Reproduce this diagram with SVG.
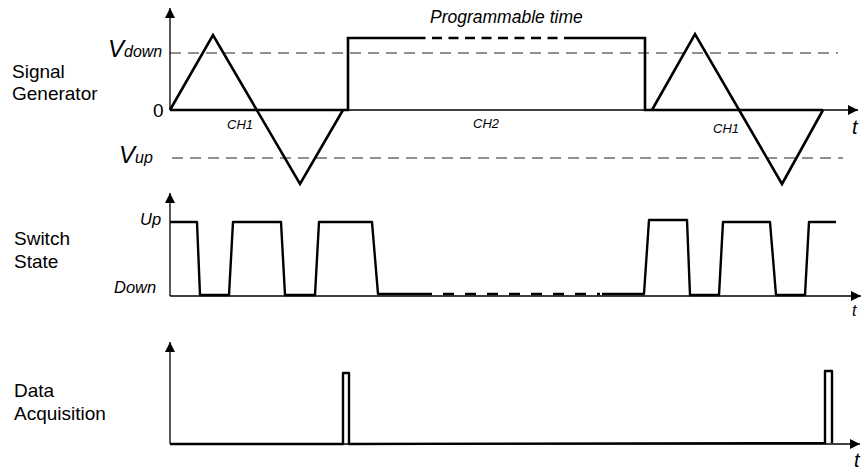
<svg xmlns="http://www.w3.org/2000/svg" width="861" height="471" viewBox="0 0 861 471">
<style>
.lbl{font-family:"Liberation Sans",Arial,sans-serif;font-size:19px;fill:#000}
.it{font-family:"Liberation Sans",Arial,sans-serif;font-style:italic;fill:#000}
.axis{stroke:#000;stroke-width:1.3;fill:none}
.sig{stroke:#000;stroke-width:2.6;fill:none;stroke-linejoin:miter}
.sw{stroke:#000;stroke-width:2.4;fill:none;stroke-linejoin:round}
.ref{stroke:#222;stroke-width:1.2;stroke-dasharray:11 7;fill:none}
</style>
<defs>
<marker id="ah" viewBox="0 0 10 10" refX="10" refY="5" markerWidth="10" markerHeight="10" markerUnits="userSpaceOnUse" orient="auto">
<path d="M0,0 L10,5 L0,10 z" fill="#000"/>
</marker>
</defs>

<g id="labels">
<text class="lbl" x="12" y="78">Signal</text>
<text class="lbl" x="12" y="100">Generator</text>
<text class="lbl" x="14" y="245">Switch</text>
<text class="lbl" x="14" y="268">State</text>
<text class="lbl" x="14" y="397">Data</text>
<text class="lbl" x="14" y="420">Acquisition</text>
</g>

<g id="signal-generator">
<line class="ref" x1="170" y1="53" x2="838" y2="53"/>
<line class="ref" x1="172" y1="158" x2="843" y2="158"/>
<line class="axis" x1="170" y1="110" x2="170" y2="8" marker-end="url(#ah)"/>
<line class="axis" x1="170" y1="110" x2="858" y2="110" marker-end="url(#ah)"/>
<text class="it" x="108" y="57" font-size="24">V<tspan font-size="16">down</tspan></text>
<text class="it" x="119" y="163" font-size="24">V<tspan font-size="16">up</tspan></text>
<text class="lbl" x="153" y="117" font-size="16">0</text>
<text class="it" x="227" y="129" font-size="13">CH1</text>
<text class="it" x="473" y="128" font-size="13">CH2</text>
<text class="it" x="713" y="133" font-size="13">CH1</text>
<text class="it" x="430" y="23" font-size="17.5">Programmable time</text>
<text class="it" x="852" y="134" font-size="20">t</text>
<path class="sig" d="M170,110 L213,35 L300,184 L343,110"/>
<path class="sig" d="M170,110 L348,110 L348,38 L423,38"/>
<path class="sig" d="M423,38 L570,38" stroke-dasharray="10 6.5" stroke-dashoffset="-9"/>
<path class="sig" d="M570,38 L645,38 L645,110 L823,110"/>
<path class="sig" d="M652,110 L695,34 L782,184 L823,110"/>
</g>

<g id="switch-state">
<line class="axis" x1="170" y1="296" x2="170" y2="193" marker-end="url(#ah)"/>
<line class="axis" x1="170" y1="296" x2="861" y2="296" marker-end="url(#ah)"/>
<text class="it" x="140" y="225" font-size="16.5">Up</text>
<text class="it" x="114" y="293" font-size="16.5">Down</text>
<text class="it" x="852" y="316" font-size="16">t</text>
<path class="sw" d="M170,222 L197,222 L200,295 L229,295 L233,222 L281,222 L285,295 L315,295 L319,222 L372,222 L378,294 L432,294"/>
<path class="sw" d="M432,294 L600,294" stroke-dasharray="11 11" stroke-dashoffset="-11" stroke-linecap="butt"/>
<path class="sw" d="M602,294 L644,294 L649,220 L687,220 L690,295 L719,295 L723,222 L770,222 L776,295 L805,295 L809,222 L836,222"/>
</g>

<g id="data-acquisition">
<line class="axis" x1="170" y1="444" x2="170" y2="342" marker-end="url(#ah)"/>
<line class="axis" x1="170" y1="444" x2="860" y2="444" marker-end="url(#ah)"/>
<text class="it" x="854" y="467" font-size="20">t</text>
<path class="sw" d="M170,444 L343,444 L343,373 L349,373 L349,444 L825,443 L825,371 L832,371 L832,443"/>
</g>
</svg>
